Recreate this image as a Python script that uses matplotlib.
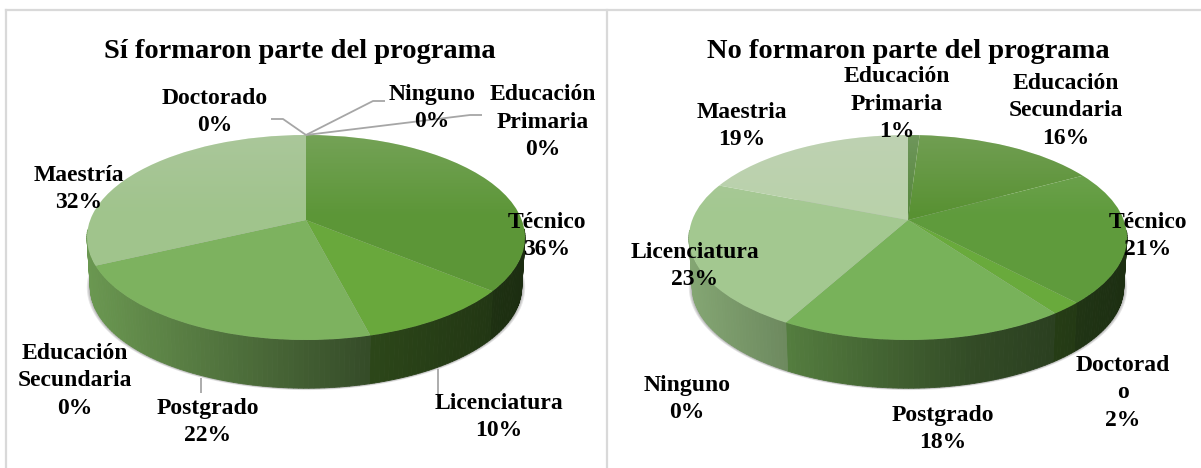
import numpy as np
import matplotlib
matplotlib.use("Agg")
import matplotlib.pyplot as plt
from matplotlib.collections import PolyCollection
from matplotlib.path import Path
from matplotlib.transforms import Transform

plt.rcParams['font.family'] = ['Liberation Serif', 'DejaVu Serif']

# ---- data ----
title_si = "Sí formaron parte del programa"
cats_si = ["Técnico", "Licenciatura", "Postgrado", "Maestría",
           "Doctorado", "Ninguno", "Educación\nPrimaria", "Educación\nSecundaria"]
vals_si = [36, 10, 22, 32, 0, 0, 0, 0]
cols_si = ["#5c9637", "#69a83c", "#7db25f", "#a0c48c", "#88b070", "#88b070", "#88b070", "#88b070"]
wall_si = ["#5c9637", "#69a83c", "#7db25f", "#7db25f", "#88b070", "#88b070", "#88b070", "#88b070"]
lblpos_si = [(547, 236), (499, 417), (208, 422), (79, 189),
             (215, 112), (432, 108), (543, 122), (75, 381)]

title_no = "No formaron parte del programa"
cats_no = ["Educación\nPrimaria", "Educación\nSecundaria", "Técnico", "Doctorad\no",
           "Postgrado", "Ninguno", "Licenciatura", "Maestria"]
vals_no = [1, 16, 21, 2, 18, 0, 23, 19]
cols_no = ["#55873c", "#589132", "#5f9b3c", "#69aa3c", "#78b25a", "#8cba78", "#a3c890", "#b9d2aa"]
wall_no = ["#55873c", "#589132", "#5f9b3c", "#69aa3c", "#78b25a", "#8cba78", "#9bc387", "#9bc387"]
lblpos_no = [(897, 104), (1066, 111), (1148, 236), (1123, 393),
             (943, 429), (687, 399), (695, 266), (742, 126)]

leaders_si = [[(306, 135), (283, 119), (271, 119)],
              [(306, 135), (373, 101), (385, 101)],
              [(306, 135), (470, 115), (482, 115)],
              [(201, 378), (201, 393)],
              [(438, 369), (438, 397)]]


class Persp(Transform):
    """Unit disc seen in perspective: disc centre goes to the apex."""
    input_dims = 2
    output_dims = 2
    is_separable = False
    has_inverted = False

    def __init__(self, cx, apex_y, half_w=219.0, up=85.0, down=120.0, scale=1.0, dy=0.0):
        super().__init__()
        self.k = (down - up) / (down + up)
        self.p = up * (1 + self.k) * scale
        self.a = half_w * np.sqrt(1 - self.k ** 2) * scale
        self.cx, self.ay = cx, apex_y + dy

    def transform_non_affine(self, values):
        values = np.asarray(values, dtype=float)
        d = 1 + self.k * values[:, 1]
        return np.column_stack([self.cx + self.a * values[:, 0] / d,
                                self.ay - self.p * values[:, 1] / d])


def to_rgb(c):
    return np.array(matplotlib.colors.to_rgb(c))


def draw_pie(ax, cx, title, cats, vals, cols, walls, lblpos):
    top = Persp(cx, 220)
    bot = Persp(cx, 220, scale=0.985, dy=50)
    vals_arr = np.array(vals, dtype=float)
    edges = np.concatenate([[0], np.cumsum(vals_arr)]) / vals_arr.sum() * 2 * np.pi

    # soft shadow under the body
    th = np.linspace(0, 2 * np.pi, 240)
    ring = np.column_stack([np.sin(th), np.cos(th)])
    for i, grow in enumerate([1.016, 1.011, 1.006]):
        pts = Persp(cx, 220, scale=0.985 * grow, dy=50).transform(ring)
        ax.fill(pts[:, 0], pts[:, 1], color="#000000", alpha=0.10, lw=0, zorder=1)

    # side wall: vertical strips shaded from left to right
    polys, faces = [], []
    for i, col in enumerate(walls):
        if edges[i + 1] <= edges[i]:
            continue
        n = max(2, int((edges[i + 1] - edges[i]) / 0.02))
        ang = np.linspace(edges[i], edges[i + 1], n + 1)
        uv = np.column_stack([np.sin(ang), np.cos(ang)])
        t_pts, b_pts = top.transform(uv), bot.transform(uv)
        for j in range(n):
            if np.cos(0.5 * (ang[j] + ang[j + 1])) > -0.1:
                continue
            polys.append([t_pts[j], t_pts[j + 1], b_pts[j + 1], b_pts[j]])
            t = (0.5 * (t_pts[j, 0] + t_pts[j + 1, 0]) - (cx - 219)) / 438
            faces.append(to_rgb(col) * np.interp(t, [0, 0.65, 1], [0.85, 0.42, 0.30]))
    ax.add_collection(PolyCollection(polys, facecolors=faces, edgecolors=faces,
                                     linewidths=0.6, zorder=2))

    # top face, drawn by the pie itself
    wedges, _ = ax.pie(vals, colors=cols, startangle=90, counterclock=False, radius=1,
                       wedgeprops={"linewidth": 0})
    for w in wedges:
        w.set_transform(top + ax.transData)
        w.set_zorder(3)

    # light sheen over the upper part of the top face
    grad = np.zeros((100, 2, 4))
    grad[..., :3] = 0.82
    grad[..., 3] = np.clip(np.linspace(0.22, -0.02, 100), 0, 1)[:, None]
    im = ax.imshow(grad, extent=(cx - 225, cx + 225, 225, 130), aspect="auto",
                   interpolation="bilinear", zorder=4)
    im.set_clip_path(Path.unit_circle(), top + ax.transData)

    ax.text(cx - 6 if title.startswith("S") else cx, 51, title, ha="center", va="center",
            fontsize=20.5, fontweight="bold", color="black", zorder=6)
    for name, v, (x, y) in zip(cats, vals, lblpos):
        ax.text(x, y, f"{name}\n{v}%", ha="center", va="center", fontsize=17,
                fontweight="bold", color="black", linespacing=1.42, zorder=6)


fig = plt.figure(figsize=(12.01, 4.68), dpi=100, facecolor="white")
ax = fig.add_axes([0, 0, 1, 1])

draw_pie(ax, 306, title_si, cats_si, vals_si, cols_si, wall_si, lblpos_si)
draw_pie(ax, 908, title_no, cats_no, vals_no, cols_no, wall_no, lblpos_no)

for seg in leaders_si:
    xs, ys = zip(*seg)
    ax.plot(xs, ys, color="#a6a6a6", lw=1.3, zorder=5, solid_capstyle="butt")

# panel frame
for xs, ys in [((6, 6), (468, 10)), ((6, 1201), (10, 10)), ((607, 607), (10, 468))]:
    ax.plot(xs, ys, color="#d9d9d9", lw=1.6, zorder=0)

ax.set_xlim(0, 1201)
ax.set_ylim(468, 0)
ax.set_aspect("auto")
ax.axis("off")
fig.savefig("out.png", dpi=100)
